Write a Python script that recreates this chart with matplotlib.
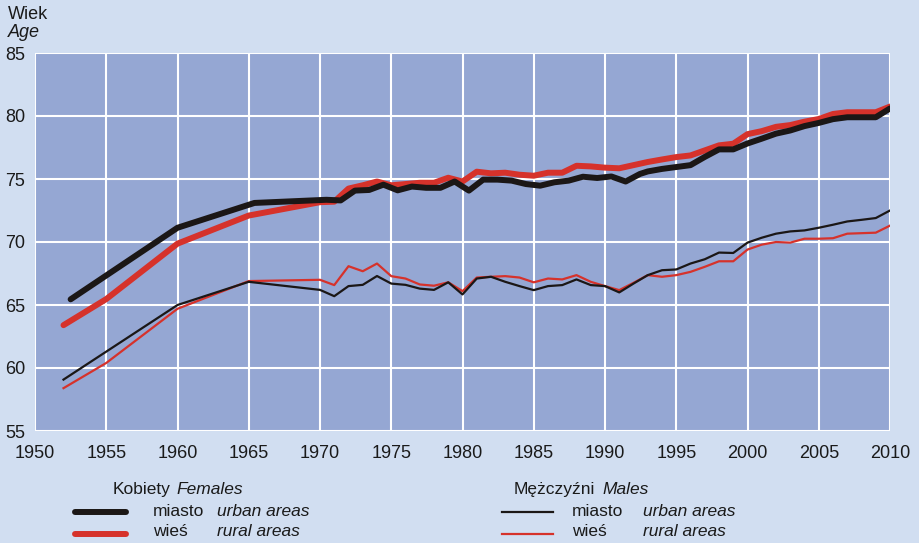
import matplotlib
matplotlib.use("Agg")
import matplotlib.pyplot as plt

# ---------------- data ----------------
annual_years = list(range(1970, 2011))

# Females, urban (thick black)
f_urban_early_years = [1952.5, 1960, 1965.4]
f_urban_early = [65.45, 71.13, 73.1]
f_urban_annual = [73.35, 73.3, 74.08, 74.13, 74.55, 74.1, 74.4, 74.3, 74.3, 74.8,
                  74.08, 74.95, 74.95, 74.87, 74.6, 74.47, 74.74, 74.87, 75.18, 75.08,
                  75.2, 74.8, 75.4, 75.6, 75.8, 75.95, 76.1, 76.75, 77.35, 77.35,
                  77.82, 78.2, 78.6, 78.85, 79.2, 79.45, 79.75, 79.9, 79.9, 79.9,
                  80.6]

# Females, rural (thick red)
f_rural_early_years = [1952, 1955, 1960, 1965]
f_rural_early = [63.4, 65.47, 69.87, 72.1]
f_rural_annual = [73.16, 73.2, 74.24, 74.5, 74.8, 74.5, 74.6, 74.7, 74.7, 75.1,
                  74.8, 75.58, 75.45, 75.5, 75.34, 75.26, 75.5, 75.5, 76.05, 76.0,
                  75.9, 75.85, 76.1, 76.35, 76.55, 76.74, 76.87, 77.27, 77.67, 77.8,
                  78.56, 78.8, 79.14, 79.28, 79.55, 79.76, 80.16, 80.3, 80.3, 80.3,
                  80.75]

# Males, urban (thin black)
m_urban_early_years = [1952, 1960, 1965]
m_urban_early = [59.08, 65.0, 66.84]
m_urban_annual = [66.2, 65.7, 66.5, 66.6, 67.3, 66.7, 66.6, 66.3, 66.2, 66.8,
                  65.84, 67.1, 67.24, 66.84, 66.5, 66.18, 66.5, 66.58, 67.03, 66.58,
                  66.5, 66.0, 66.7, 67.37, 67.76, 67.82, 68.29, 68.63, 69.16, 69.13,
                  69.95, 70.34, 70.66, 70.84, 70.92, 71.13, 71.37, 71.63, 71.76, 71.9,
                  72.5]

# Males, rural (thin red)
m_rural_early_years = [1952, 1955, 1960, 1965]
m_rural_early = [58.4, 60.4, 64.7, 66.9]
m_rural_annual = [67.0, 66.58, 68.08, 67.68, 68.29, 67.29, 67.1, 66.63, 66.53, 66.8,
                  66.1, 67.18, 67.24, 67.29, 67.18, 66.8, 67.1, 67.03, 67.37, 66.84,
                  66.5, 66.18, 66.76, 67.37, 67.24, 67.37, 67.63, 68.03, 68.47, 68.47,
                  69.4, 69.79, 70.0, 69.95, 70.26, 70.26, 70.3, 70.66, 70.7, 70.74,
                  71.3]

x_ticks = list(range(1950, 2011, 5))
y_ticks = [55, 60, 65, 70, 75, 80, 85]

# ---------------- style ----------------
W, H = 919, 543
BG = "#D1DEF1"
PLOT_BG = "#95A7D3"
BLACK = "#1B1716"
RED = "#D6322B"
TXT = "#1a1a1a"
plt.rcParams["font.family"] = ["Liberation Sans", "DejaVu Sans"]
FS = 13
LFS = 12.5

fig = plt.figure(figsize=(W / 100, H / 100), dpi=100, facecolor=BG)
L, R, T, B = 35, 890, 53, 431
ax = fig.add_axes([L / W, 1 - B / H, (R - L) / W, (B - T) / H])
ax.set_facecolor(PLOT_BG)
ax.set_xlim(1950, 2010)
ax.set_ylim(55, 85)
for s in ax.spines.values():
    s.set_visible(False)
ax.set_xticks(x_ticks)
ax.set_yticks(y_ticks)
ax.grid(True, color="white", linewidth=1.5)
ax.set_axisbelow(True)
ax.tick_params(length=0, labelsize=FS, colors=TXT)
ax.tick_params(axis="x", pad=10)
ax.tick_params(axis="y", pad=7)

f_urban_x = f_urban_early_years + [y + 0.45 if y <= 1992 else y for y in annual_years]

ax.plot(m_rural_early_years + annual_years, m_rural_early + m_rural_annual,
        color=RED, lw=1.6, solid_joinstyle="round", zorder=3)
ax.plot(m_urban_early_years + annual_years, m_urban_early + m_urban_annual,
        color=BLACK, lw=1.6, solid_joinstyle="round", zorder=4)
ax.plot(f_rural_early_years + annual_years, f_rural_early + f_rural_annual,
        color=RED, lw=4.3, solid_capstyle="round", solid_joinstyle="round", zorder=5)
ax.plot(f_urban_x, f_urban_early + f_urban_annual,
        color=BLACK, lw=4.3, solid_capstyle="round", solid_joinstyle="round", zorder=6)

def ftext(x, y, s, italic=False, size=LFS):
    fig.text(x / W, 1 - y / H, s, fontsize=size, color=TXT,
             style="italic" if italic else "normal", va="baseline", ha="left")

ftext(8, 19, "Wiek", size=FS)
ftext(8, 37, "Age", italic=True, size=FS)

# legend: females
ftext(113, 494, "Kobiety")
ftext(176, 494, "Females", italic=True)
ftext(153, 515.5, "miasto")
ftext(217, 515.5, "urban areas", italic=True)
ftext(153, 536.5, "wieś")
ftext(217, 536.5, "rural areas", italic=True)
fig.add_artist(plt.Line2D([75 / W, 126 / W], [1 - 511.5 / H] * 2, color=BLACK, lw=4.3,
                          solid_capstyle="round"))
fig.add_artist(plt.Line2D([75 / W, 126 / W], [1 - 534 / H] * 2, color=RED, lw=4.3,
                          solid_capstyle="round"))

# legend: males
ftext(514, 494, "Mężczyźni")
ftext(602, 494, "Males", italic=True)
ftext(572, 515.5, "miasto")
ftext(643, 515.5, "urban areas", italic=True)
ftext(572, 536.5, "wieś")
ftext(643, 536.5, "rural areas", italic=True)
fig.add_artist(plt.Line2D([502 / W, 553 / W], [1 - 511.5 / H] * 2, color=BLACK, lw=1.6))
fig.add_artist(plt.Line2D([502 / W, 553 / W], [1 - 534 / H] * 2, color=RED, lw=1.6))

fig.savefig("out.png", dpi=100, facecolor=BG)
